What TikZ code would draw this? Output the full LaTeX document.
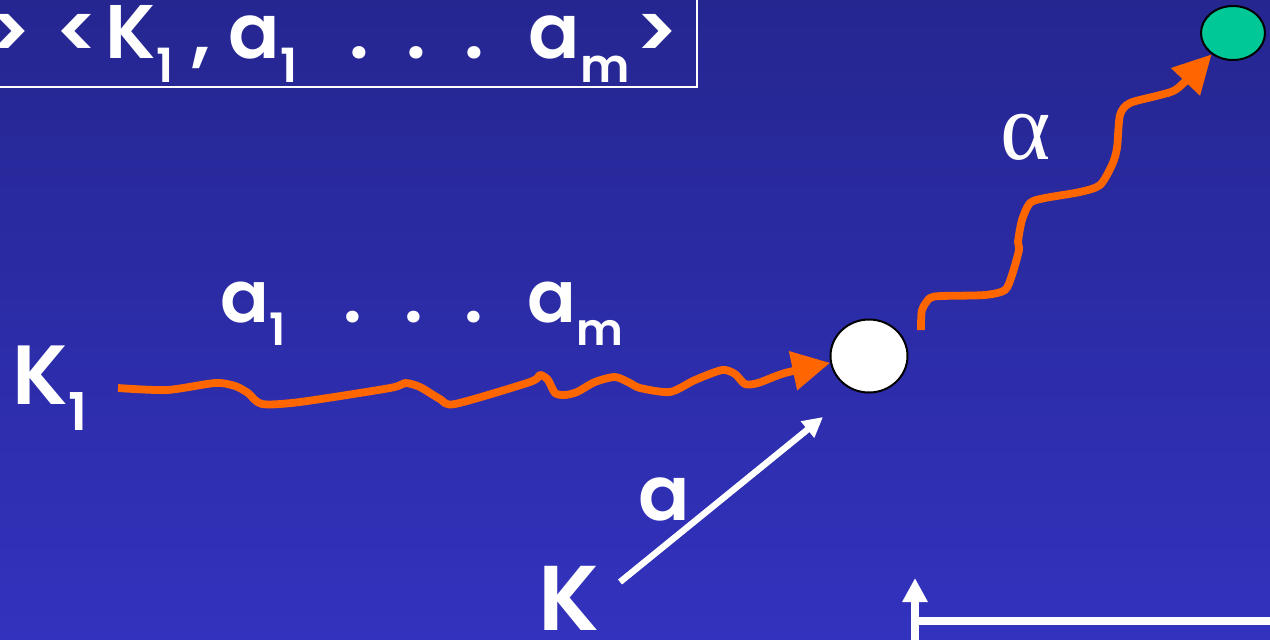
\documentclass[tikz,border=0pt]{standalone}
\usepackage{fontspec}
\setmainfont{Poppins}[BoldFont={Poppins SemiBold}]
\newfontfamily\greekserif{Liberation Serif}
\usetikzlibrary{arrows.meta,shapes.geometric}
\definecolor{bgtop}{RGB}{37,38,144}
\definecolor{bgbot}{RGB}{50,50,190}
\definecolor{wavy}{RGB}{255,102,0}
\definecolor{goalgreen}{RGB}{0,200,150}
\newcommand{\dn}[1]{\raisebox{-.32em}{\scalebox{.62}{#1}}}
\newcommand{\gap}[1]{\hspace{#1pt}}

\begin{document}
\begin{tikzpicture}[x=0.5pt,y=-0.5pt,
  lbl/.style={text=white,inner sep=0,anchor=base west,font=\bfseries},
  state/.style={ellipse,draw=black,line width=1pt,inner sep=0},
  orarr/.style={wavy,line width=3.9pt,line join=round,-{Triangle[length=19pt,width=19pt]}},
  warr/.style={white,line width=3.2pt,-{Triangle[length=10pt,width=10pt]}}]
\useasboundingbox (0,0) rectangle (1270,639);
\clip (0,0) rectangle (1270,639);
\shade[top color=bgtop,bottom color=bgbot] (0,0) rectangle (1270,639);
% header box
\draw[white,line width=1pt] (-10,-10) rectangle (697,87);
\node[lbl,font=\bfseries\fontsize{38}{40}\selectfont] (head) at (-12,58)
  {>\gap{12}<\gap{3}K\dn{1}\gap{9},\gap{9}a\dn{1}\gap{26}.\gap{19}.\gap{19}.\gap{22}a\dn{m}\gap{3}>};
% states
\node[state,fill=white,minimum width=38.5pt,minimum height=36.5pt] (mid) at (869,356) {};
\node[state,fill=goalgreen,minimum width=32pt,minimum height=27pt] (goal) at (1233,33) {};
% labels
\node[lbl,font=\bfseries\fontsize{42}{44}\selectfont] (k1) at (12,404) {K\dn{1}};
\node[lbl,font=\bfseries\fontsize{36}{38}\selectfont] (word) at (220,322)
  {a\dn{1}\gap{29}.\gap{21}.\gap{21}.\gap{22}a\dn{m}};
\node[lbl,font=\bfseries\fontsize{38}{40}\selectfont] (la) at (638,520) {a};
\node[lbl,font=\bfseries\fontsize{46}{48}\selectfont] (k) at (538,630) {K};
\node[text=white,inner sep=0] (alpha) at (1026,137) {\greekserif\fontsize{48}{50}\selectfont α};
% free ends
\coordinate (s1) at (118,388);
\coordinate (s2) at (921,330);
\coordinate (s3) at (620,582);
\coordinate (up0) at (915,650);
\coordinate (up1) at (915,578);
\coordinate (h0) at (915,621);
\coordinate (h1) at (1280,621);
% wavy runs
\draw[orarr] plot[smooth,tension=0.45] coordinates {(s1) (167,390) (215,383) (235,386) (248,393) (262,404) (300,402) (390,388) (405,383) (420,387) (440,399) (455,404) (530,382) (540,375) (548,380) (555,393) (565,395) (577,392) (595,382) (615,377) (630,383) (640,388) (670,392) (695,380) (722,370) (735,374) (745,384) (758,383) (785,373) (mid.190)};
\draw[orarr] plot[smooth,tension=0.45] coordinates {(s2) (922,310) (930,298) (942,296) (985,295) (1005,290) (1012,275) (1019,250) (1018,242) (1022,220) (1030,203) (1045,198) (1080,192) (1100,185) (1112,165) (1117,148) (1120,115) (1130,103) (1160,95) (1178,88) (goal.225)};
\draw[warr] (s3) -- ([shift={(-46,61)}]mid.center);
\draw[white,line width=4pt,-{Triangle[length=12pt,width=12pt]}] (up0) -- (up1);
\draw[white,line width=4pt] (h0) -- (h1);
\end{tikzpicture}
\end{document}
